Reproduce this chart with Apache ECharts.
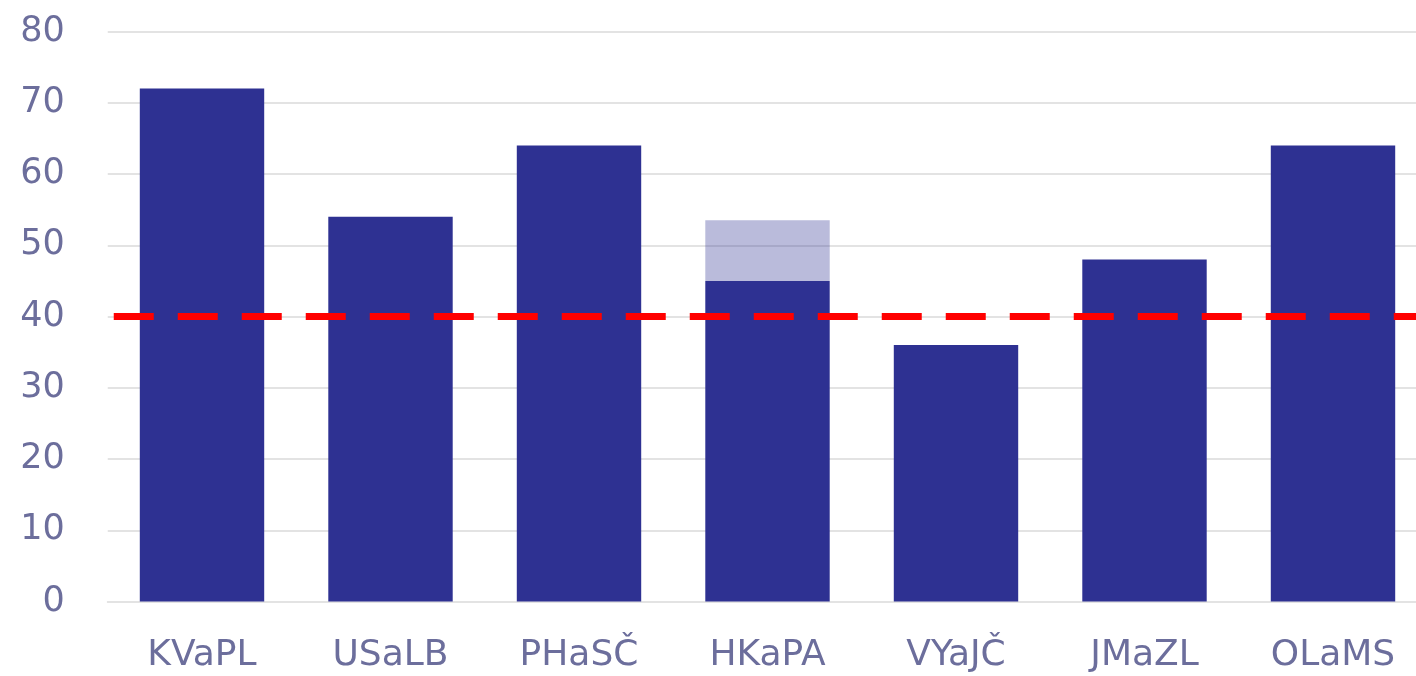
<!DOCTYPE html>
<html>
<head>
<meta charset="utf-8">
<script src="https://cdn.jsdelivr.net/npm/echarts@6/dist/echarts.min.js"></script>
<style>html,body{margin:0;padding:0;background:#fff;overflow:hidden}#c{width:1416px;height:676px}</style>
</head>
<body>
<div id="c"></div>
<script>
const categories = ['KVaPL', 'USaLB', 'PHaSČ', 'HKaPA', 'VYaJČ', 'JMaZL', 'OLaMS'];
const mainValues = [72, 54, 64, 45, 36, 48, 64];
const extraValues = [null, null, null, 8.5, null, null, null];
const thresholdValue = 40;
const yTicks = [0, 10, 20, 30, 40, 50, 60, 70, 80];

const chart = echarts.init(document.getElementById('c'));
const labelColor = '#6c6e9c';
chart.setOption({
  animation: false,
  grid: { left: 107.75, width: 1319.5, top: 31.5, bottom: 74.5, containLabel: false, outerBoundsMode: 'none' },
  xAxis: {
    type: 'category',
    data: categories,
    axisLine: { show: true, lineStyle: { color: '#e3e3e3', width: 2 } },
    axisTick: { show: false },
    axisLabel: { color: labelColor, fontFamily: 'DejaVu Sans', fontSize: 36, margin: 36 }
  },
  yAxis: {
    type: 'value',
    min: yTicks[0],
    max: yTicks[yTicks.length - 1],
    interval: 10,
    axisLine: { show: false },
    axisTick: { show: false },
    splitLine: { lineStyle: { color: '#e3e3e3', width: 2 } },
    axisLabel: { color: labelColor, fontFamily: 'DejaVu Sans', fontSize: 35, margin: 43 }
  },
  series: [
    {
      type: 'bar',
      stack: 's',
      data: mainValues,
      barWidth: '66%',
      itemStyle: { color: '#2e3192' },
      markLine: {
        silent: true,
        symbol: 'none',
        label: { show: false },
        lineStyle: { color: '#ff0000', width: 7, type: [40, 24], dashOffset: -6 },
        data: [{ yAxis: thresholdValue }]
      }
    },
    {
      type: 'bar',
      stack: 's',
      data: extraValues,
      barWidth: '66%',
      itemStyle: { color: 'rgba(46,49,146,0.33)' }
    }
  ]
});
</script>
</body>
</html>
